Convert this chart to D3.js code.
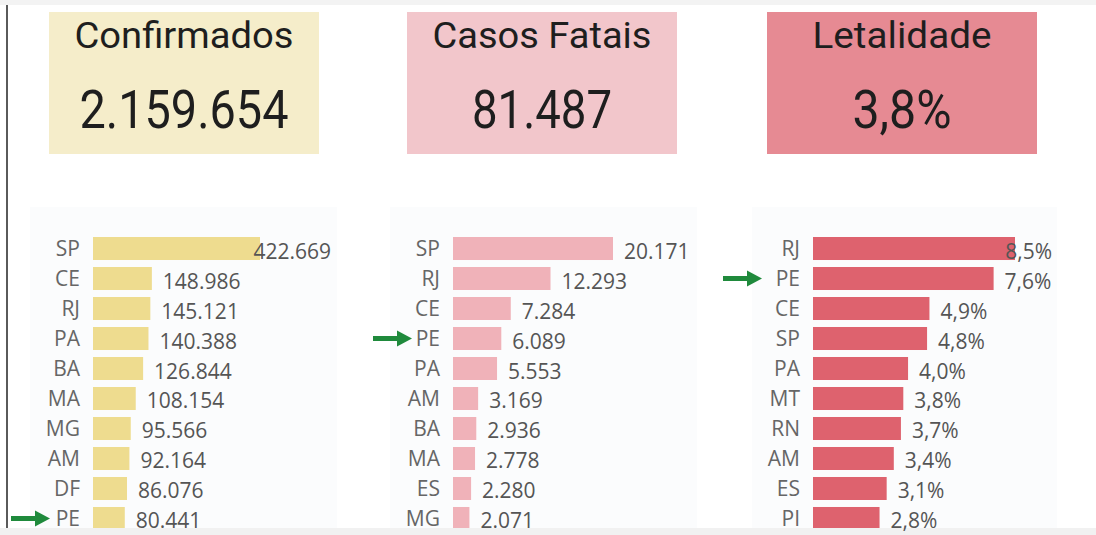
<!DOCTYPE html>
<html lang="pt-BR">

<head>
    <meta charset="UTF-8">
    <title>Painel COVID-19</title>
    <style>
        body { margin: 0; background: #fff; }
        svg { display: block; }
    </style>
</head>

<body>
    <div id="wrapper"></div>
    <script src="https://d3js.org/d3.v7.min.js"></script>
    <script>
        const cardTitles = ['Confirmados', 'Casos Fatais', 'Letalidade'];
        const cardValues = ['2.159.654', '81.487', '3,8%'];

        const ufConfirmados = ['SP', 'CE', 'RJ', 'PA', 'BA', 'MA', 'MG', 'AM', 'DF', 'PE'];
        const valConfirmados = [422669, 148986, 145121, 140388, 126844, 108154, 95566, 92164, 86076, 80441];

        const ufObitos = ['SP', 'RJ', 'CE', 'PE', 'PA', 'AM', 'BA', 'MA', 'ES', 'MG'];
        const valObitos = [20171, 12293, 7284, 6089, 5553, 3169, 2936, 2778, 2280, 2071];

        const ufLetalidade = ['RJ', 'PE', 'CE', 'SP', 'PA', 'MT', 'RN', 'AM', 'ES', 'PI'];
        const valLetalidade = [8.5, 7.6, 4.9, 4.8, 4.0, 3.8, 3.7, 3.4, 3.1, 2.8];

        const destaque = 'PE';

        const width = 1096,
            height = 535;

        const svg = d3.select('#wrapper').append('svg')
            .attr('width', width)
            .attr('height', height);

        const br = d3.formatLocale({ decimal: ',', thousands: '.', grouping: [3], currency: ['R$', ''] });
        const fmtInt = br.format(',');
        const fmtPct = (d) => br.format('.1f')(d) + '%';

        // faixas cinza e linha da esquerda
        svg.append('rect').attr('x', 0).attr('y', 0).attr('width', width).attr('height', 5).attr('fill', '#f3f3f3');
        svg.append('rect').attr('x', 0).attr('y', 528).attr('width', width).attr('height', 7).attr('fill', '#f1f1f1');
        svg.append('rect').attr('x', 6).attr('y', 5).attr('width', 2).attr('height', 523).attr('fill', '#5a5a5a');

        // cartões
        const cards = [
            { x: 49, w: 270, fill: '#f5edca', tl: 219, vl: 209 },
            { x: 407, w: 270, fill: '#f2c6cb', tl: 219, vl: 140 },
            { x: 767, w: 270, fill: '#e68a93', tl: 179, vl: 99 }
        ];

        cards.forEach((c, i) => {
            const g = svg.append('g');
            g.append('rect')
                .attr('x', c.x).attr('y', 12)
                .attr('width', c.w).attr('height', 142)
                .attr('fill', c.fill);
            g.append('text')
                .attr('x', c.x + c.w / 2).attr('y', 48)
                .attr('text-anchor', 'middle')
                .attr('font-family', 'Roboto, sans-serif')
                .attr('font-size', 36)
                .attr('fill', '#1e1e1e')
                .attr('textLength', c.tl)
                .attr('lengthAdjust', 'spacingAndGlyphs')
                .text(cardTitles[i]);
            g.append('text')
                .attr('x', c.x + c.w / 2).attr('y', 128)
                .attr('text-anchor', 'middle')
                .attr('font-family', 'Roboto, sans-serif')
                .attr('font-size', 53)
                .attr('fill', '#1e1e1e')
                .attr('textLength', c.vl)
                .attr('lengthAdjust', 'spacingAndGlyphs')
                .text(cardValues[i]);
        });

        // gráficos de barras
        const charts = [
            { ufs: ufConfirmados, vals: valConfirmados, fmt: fmtInt, color: '#eedc8f', panel: [30, 307], x0: 93, x1: 260, right: 331, tip: 50 },
            { ufs: ufObitos, vals: valObitos, fmt: fmtInt, color: '#f0b2b9', panel: [390, 307], x0: 453, x1: 613, right: 690, tip: 412 },
            { ufs: ufLetalidade, vals: valLetalidade, fmt: fmtPct, color: '#de626e', panel: [752, 305], x0: 813, x1: 1015, right: 1052, tip: 762 }
        ];

        charts.forEach((c) => {
            const g = svg.append('g');

            g.append('rect')
                .attr('x', c.panel[0]).attr('y', 207)
                .attr('width', c.panel[1]).attr('height', 321)
                .attr('fill', '#fbfcfd');

            const x = d3.scaleLinear()
                .domain([0, d3.max(c.vals)])
                .range([c.x0, c.x1]);

            const y = d3.scaleBand()
                .domain(c.ufs)
                .range([233.5, 533.5])
                .paddingInner(0.233)
                .paddingOuter(0.1167);

            const data = c.ufs.map((uf, i) => ({ uf: uf, v: c.vals[i] }));

            // barras (cortadas pela faixa de baixo)
            g.append('g')
                .selectAll('rect')
                .data(data)
                .join('rect')
                .attr('x', x(0))
                .attr('y', d => y(d.uf))
                .attr('width', d => x(d.v) - x(0))
                .attr('height', d => Math.min(y.bandwidth(), 528 - y(d.uf)))
                .attr('fill', c.color);

            // eixo de categorias
            const yAxis = d3.axisLeft(y).tickSize(0).tickPadding(13);
            const ax = g.append('g')
                .attr('transform', `translate(${c.x0},0)`)
                .call(yAxis);
            ax.select('.domain').remove();
            ax.selectAll('text')
                .attr('font-family', '"Open Sans", sans-serif')
                .attr('font-size', 21)
                .attr('fill', '#666')
                .attr('dy', '0.36em');

            // rótulos de valor
            g.append('g')
                .selectAll('text')
                .data(data)
                .join('text')
                .attr('y', d => y(d.uf) + y.bandwidth() / 2 + 10)
                .attr('font-family', '"Open Sans", sans-serif')
                .attr('font-size', 21)
                .attr('fill', '#555')
                .text(d => c.fmt(d.v))
                .attr('x', function (d) {
                    const w = this.getComputedTextLength();
                    return Math.min(x(d.v) + 11, c.right - w);
                });

            // seta verde no estado destacado
            const yc = y(destaque) + y.bandwidth() / 2;
            const tip = c.tip;
            const arrow = d3.path();
            arrow.moveTo(tip - 39, yc - 2.5);
            arrow.lineTo(tip - 15, yc - 2.5);
            arrow.lineTo(tip - 15, yc - 8);
            arrow.lineTo(tip, yc);
            arrow.lineTo(tip - 15, yc + 8);
            arrow.lineTo(tip - 15, yc + 2.5);
            arrow.lineTo(tip - 39, yc + 2.5);
            arrow.closePath();
            g.append('path')
                .attr('d', arrow.toString())
                .attr('fill', '#1f8a3c');
        });
    </script>
</body>

</html>
